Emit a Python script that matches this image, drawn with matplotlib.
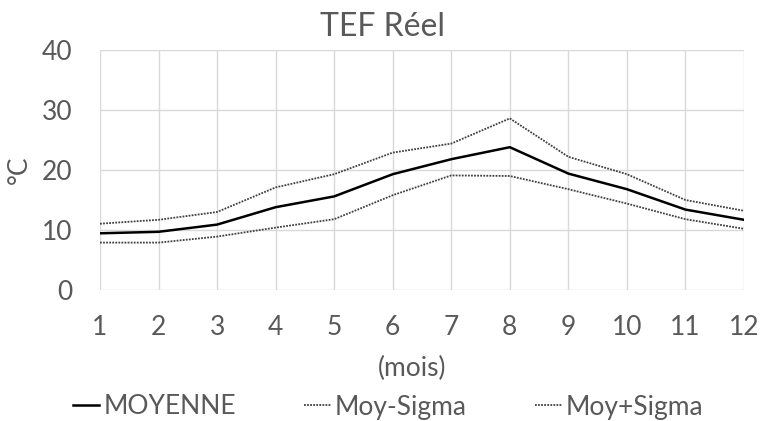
import matplotlib
matplotlib.use("Agg")
import matplotlib.pyplot as plt

months = [1, 2, 3, 4, 5, 6, 7, 8, 9, 10, 11, 12]
moyenne = [9.45, 9.7, 10.9, 13.8, 15.6, 19.3, 21.8, 23.8, 19.4, 16.8, 13.4, 11.7]
moy_moins_sigma = [7.9, 7.9, 8.9, 10.4, 11.8, 15.8, 19.1, 19.0, 16.8, 14.4, 11.8, 10.2]
moy_plus_sigma = [11.05, 11.7, 13.0, 17.1, 19.3, 22.9, 24.4, 28.6, 22.2, 19.3, 15.0, 13.2]

plt.rcParams['font.family'] = ['Lato', 'DejaVu Sans']
txt = '#595959'

W, H = 761, 421
fig = plt.figure(figsize=(W / 100, H / 100), dpi=100)
ax = fig.add_axes([100 / W, 131 / H, 644 / W, 240 / H])

ax.plot(months, moyenne, color='black', lw=1.8, label='MOYENNE', zorder=3)
ax.plot(months, moy_moins_sigma, color='#404040', lw=1.3, ls=(0, (1, 0.7)), label='Moy-Sigma', zorder=3)
ax.plot(months, moy_plus_sigma, color='#404040', lw=1.3, ls=(0, (1, 0.7)), label='Moy+Sigma', zorder=3)

ax.set_xlim(1, 12)
ax.set_ylim(0, 40)
ax.set_xticks(months)
ax.set_yticks([0, 10, 20, 30, 40])
ax.grid(True, color='#d9d9d9', lw=1)
for s in ax.spines.values():
    s.set_visible(False)
ax.tick_params(axis='both', length=0, labelsize=19, labelcolor=txt)
ax.tick_params(axis='y', pad=20)
ax.tick_params(axis='x', pad=18)

fig.text(19 / W, 1 - 170 / H, '°C', rotation=90, fontsize=19, color=txt, ha='center', va='center')
fig.text(383 / W, 1 - 27 / H, 'TEF Réel', fontsize=23, color=txt, ha='center', va='center')
fig.text(412 / W, 1 - 368 / H, '(mois)', fontsize=19, color=txt, ha='center', va='center')

leg = fig.legend(loc='center', bbox_to_anchor=(388 / W, 1 - 407 / H), ncol=3, frameon=False,
                 fontsize=19, handlelength=1.0, handletextpad=0.15, columnspacing=2.6,
                 labelcolor=txt, borderpad=0, borderaxespad=0)

fig.savefig('out.png', dpi=100)
